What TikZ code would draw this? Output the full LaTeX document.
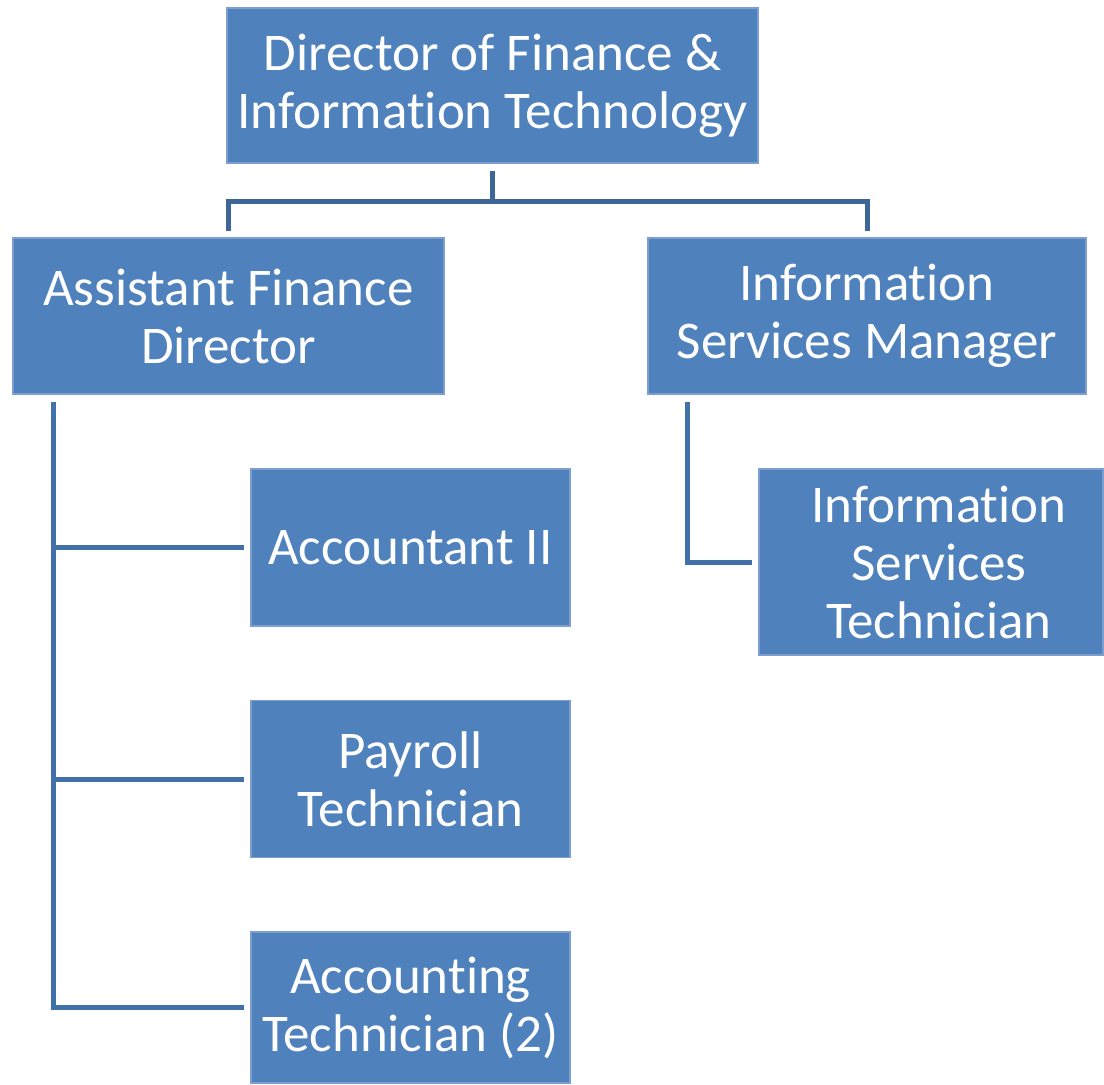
\documentclass[tikz,border=0pt]{standalone}
\usepackage{fontspec}
\setmainfont[Ligatures=NoCommon,RawFeature=-liga]{Carlito}
\usepackage{tikz}
\usetikzlibrary{positioning}
\definecolor{boxblue}{HTML}{4F81BD}
\definecolor{boxline}{HTML}{7C9FCF}
\definecolor{linkblue}{HTML}{4171A8}
\definecolor{toplink}{HTML}{3E6696}
\tikzstyle{edge}=[
	-,
	draw=linkblue,
	line width=2.5pt
]
\tikzstyle{topedge}=[
	edge,
	draw=toplink
]
\tikzstyle{post}=[
	rectangle,
	fill=boxblue,
	draw=boxline,
	line width=0.6pt,
	text=white,
	align=center,
	inner sep=1mm,
	font=\fontsize{26.5}{29}\selectfont
]
\tikzstyle{junior}=[
	post,
	minimum width=159.5pt,
	minimum height=78.5pt
]

\begin{document}
\begin{tikzpicture}[x=0.5pt,y=-0.5pt]
\useasboundingbox (0,0) rectangle (1104,1084);

\node[post, minimum width=265.5pt, minimum height=77.5pt] (dir) at (492.5,85.5)
    {Director of Finance \&\\Information Technology};
\node[post, minimum width=215.5pt, minimum height=78pt] (afd) at (228.5,316)
    {Assistant Finance\\Director};
\node[post, minimum width=219pt, minimum height=78pt] (ism) at (867,316)
    {Information\\Services Manager};

\node[junior] (acc) at (410.5,547.5) {Accountant II};
\node[junior] (pay) at (410.5,779) {Payroll\\Technician};
\node[junior, minimum height=75.5pt] (tech) at (410.5,1007.5) {Accounting\\Technician (2)};
\node[post, minimum width=172pt, minimum height=93pt] (ist) at (931,562)
    {\hspace*{8pt}Information\\\hspace*{8pt}Services\\\hspace*{8pt}Technician};

% top level
\coordinate (split) at ([yshift=-19pt]dir.south);
\draw[topedge] ([yshift=-3.5pt]dir.south) -- (split);
\draw[topedge] (split) -| ([yshift=3pt]afd.north);
\draw[topedge] (split) -| ([yshift=3pt]ism.north);

% finance side
\coordinate (afdtrunk) at ([xshift=20.5pt,yshift=-3.5pt]afd.south west);
\foreach \n in {acc,pay,tech}
    \draw[edge] (afdtrunk) |- ([xshift=-3pt]\n.west);

% information services side
\coordinate (ismtrunk) at ([xshift=20pt,yshift=-3.5pt]ism.south west);
\draw[edge] (ismtrunk) |- ([xshift=-3pt]ist.west);

\end{tikzpicture}
\end{document}
